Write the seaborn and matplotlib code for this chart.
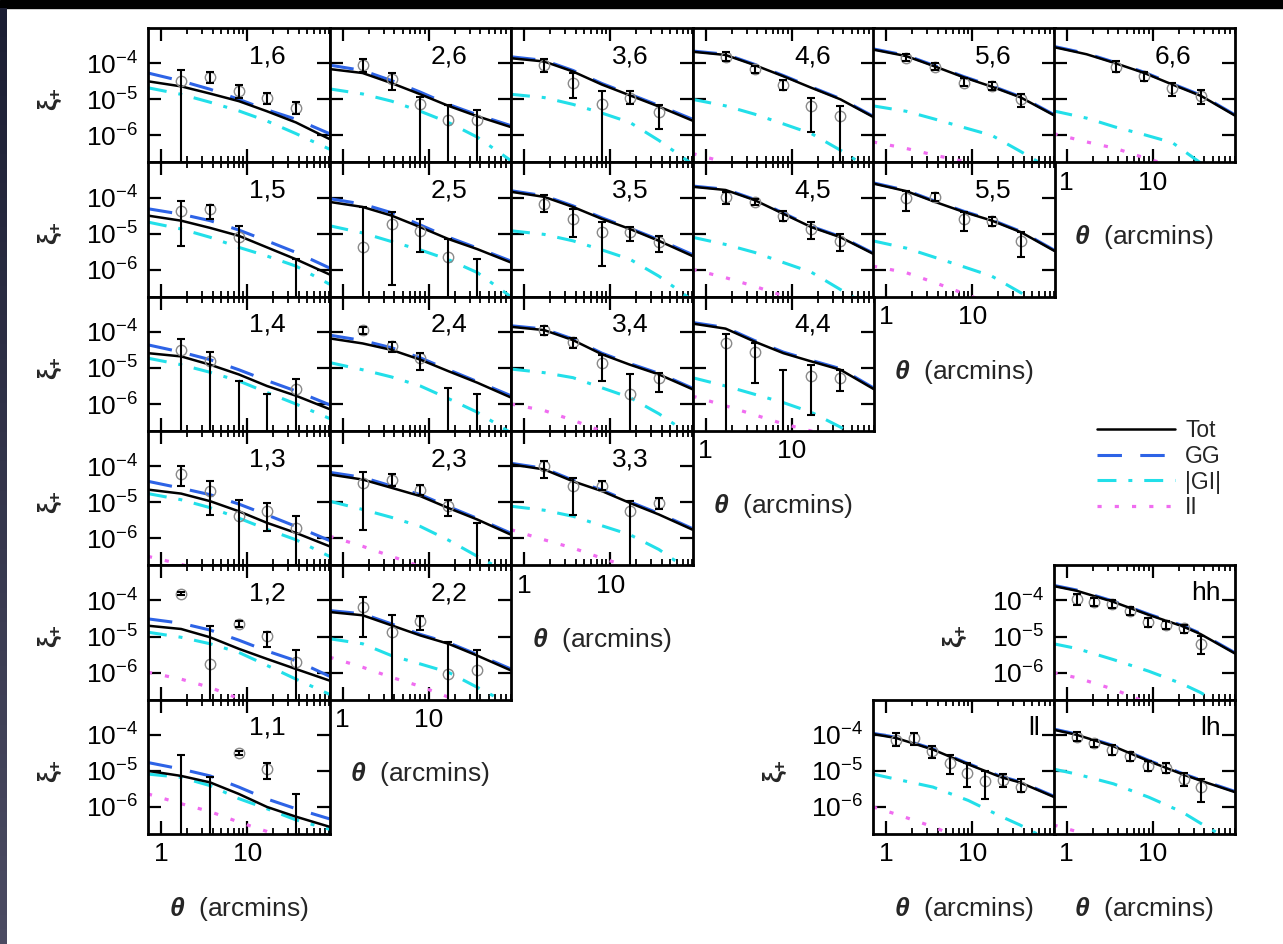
import numpy as np
import matplotlib
matplotlib.use("Agg")
import matplotlib.pyplot as plt
from matplotlib.ticker import FixedLocator, NullLocator, FuncFormatter, NullFormatter
from matplotlib.lines import Line2D
from matplotlib.patches import Rectangle
import seaborn as sns

sns.set_theme(style="ticks")
plt.rcParams["font.family"] = ["Liberation Sans", "DejaVu Sans"]
plt.rcParams["mathtext.fontset"] = "custom"
plt.rcParams["mathtext.rm"] = "Liberation Sans"
plt.rcParams["mathtext.it"] = "Liberation Sans:italic:bold"
plt.rcParams["mathtext.bf"] = "Liberation Sans:bold"

# ---------------------------------------------------------------- data
# angular grid (arcmin) for the model curves and the measured bins
THETA_MODEL = [0.7, 1.7, 3.7, 8.0, 17.0, 37.0, 91.0]
THETA_DATA = [1.7, 3.7, 8.0, 17.0, 37.0]
THETA_MODEL_AUTO = [0.7, 1.3, 3.5, 9.0, 22.0, 36.0, 91.0]
THETA_DATA_AUTO = [1.3, 2.1, 3.4, 5.5, 8.8, 14.2, 23.0, 37.0]

# log10 xi_+ of the model components per tomographic bin pair
TOT = {
    "1,6": [-4.50, -4.64, -4.84, -5.05, -5.33, -5.64, -6.10],
    "2,6": [-4.16, -4.27, -4.55, -4.86, -5.18, -5.47, -5.77],
    "3,6": [-3.86, -3.95, -4.23, -4.59, -4.89, -5.20, -5.59],
    "4,6": [-3.68, -3.77, -4.05, -4.36, -4.68, -5.00, -5.50],
    "5,6": [-3.62, -3.80, -4.09, -4.39, -4.65, -4.95, -5.45],
    "6,6": [-3.55, -3.75, -4.00, -4.27, -4.59, -4.91, -5.45],
    "1,5": [-4.50, -4.64, -4.84, -5.06, -5.38, -5.71, -6.13],
    "2,5": [-4.12, -4.26, -4.50, -4.82, -5.15, -5.43, -5.80],
    "3,5": [-3.84, -3.98, -4.26, -4.59, -4.87, -5.20, -5.62],
    "4,5": [-3.70, -3.79, -4.07, -4.45, -4.82, -5.10, -5.57],
    "5,5": [-3.61, -3.82, -4.12, -4.40, -4.64, -4.96, -5.48],
    "1,4": [-4.59, -4.68, -4.91, -5.18, -5.50, -5.77, -6.14],
    "2,4": [-4.18, -4.32, -4.50, -4.77, -5.09, -5.41, -5.82],
    "3,4": [-3.86, -3.95, -4.23, -4.62, -4.91, -5.18, -5.59],
    "4,4": [-3.77, -3.91, -4.27, -4.59, -4.82, -5.05, -5.59],
    "1,3": [-4.65, -4.76, -4.97, -5.25, -5.57, -5.85, -6.22],
    "2,3": [-4.23, -4.37, -4.60, -4.83, -5.16, -5.48, -5.90],
    "3,3": [-3.95, -4.09, -4.42, -4.69, -5.02, -5.34, -5.76],
    "1,2": [-4.70, -4.79, -5.02, -5.34, -5.62, -5.90, -6.22],
    "2,2": [-4.32, -4.41, -4.69, -4.97, -5.20, -5.53, -5.94],
    "1,1": [-5.00, -5.14, -5.32, -5.64, -6.00, -6.27, -6.55],
}
GG = {
    "1,6": [-4.27, -4.49, -4.72, -5.00, -5.29, -5.55, -5.95],
    "2,6": [-4.05, -4.20, -4.48, -4.80, -5.14, -5.43, -5.73],
    "3,6": [-3.82, -3.92, -4.20, -4.56, -4.86, -5.17, -5.55],
    "4,6": [-3.66, -3.75, -4.03, -4.34, -4.66, -4.98, -5.48],
    "5,6": [-3.60, -3.78, -4.07, -4.37, -4.63, -4.93, -5.43],
    "6,6": [-3.53, -3.73, -3.98, -4.25, -4.57, -4.89, -5.43],
    "1,5": [-4.31, -4.46, -4.64, -4.90, -5.20, -5.52, -5.95],
    "2,5": [-4.03, -4.18, -4.42, -4.76, -5.10, -5.40, -5.76],
    "3,5": [-3.81, -3.95, -4.23, -4.56, -4.85, -5.17, -5.58],
    "4,5": [-3.68, -3.77, -4.05, -4.43, -4.80, -5.08, -5.55],
    "5,5": [-3.59, -3.80, -4.10, -4.38, -4.62, -4.94, -5.46],
    "1,4": [-4.36, -4.56, -4.77, -5.05, -5.35, -5.64, -6.02],
    "2,4": [-4.09, -4.24, -4.44, -4.72, -5.05, -5.38, -5.77],
    "3,4": [-3.83, -3.92, -4.20, -4.59, -4.88, -5.15, -5.56],
    "4,4": [-3.74, -3.88, -4.24, -4.56, -4.79, -5.02, -5.56],
    "1,3": [-4.42, -4.61, -4.79, -5.05, -5.35, -5.67, -6.06],
    "2,3": [-4.17, -4.31, -4.55, -4.79, -5.12, -5.45, -5.86],
    "3,3": [-3.92, -4.06, -4.39, -4.66, -4.99, -5.31, -5.73],
    "1,2": [-4.51, -4.63, -4.82, -5.10, -5.40, -5.67, -6.10],
    "2,2": [-4.28, -4.37, -4.65, -4.94, -5.17, -5.50, -5.90],
    "1,1": [-4.77, -4.95, -5.14, -5.45, -5.78, -6.05, -6.33],
}
GI = {
    "1,6": [-4.68, -4.86, -5.08, -5.32, -5.60, -5.95, -6.38],
    "2,6": [-4.71, -4.85, -5.05, -5.33, -5.64, -6.05, -6.70],
    "3,6": [-4.86, -4.95, -5.14, -5.38, -5.64, -6.14, -6.80],
    "4,6": [-5.00, -5.18, -5.41, -5.68, -5.95, -6.41, -7.00],
    "5,6": [-5.18, -5.33, -5.55, -5.78, -6.00, -6.45, -7.00],
    "6,6": [-5.32, -5.52, -5.77, -5.98, -6.20, -6.78, -7.20],
    "1,5": [-4.68, -4.87, -5.10, -5.38, -5.62, -5.90, -6.40],
    "2,5": [-4.78, -4.98, -5.22, -5.45, -5.72, -6.08, -6.75],
    "3,5": [-4.92, -5.02, -5.20, -5.45, -5.71, -6.18, -6.85],
    "4,5": [-5.10, -5.30, -5.52, -5.80, -6.07, -6.55, -7.10],
    "5,5": [-5.20, -5.40, -5.66, -5.92, -6.18, -6.64, -7.20],
    "1,4": [-4.73, -4.91, -5.12, -5.36, -5.68, -6.00, -6.40],
    "2,4": [-4.85, -5.05, -5.25, -5.50, -5.85, -6.23, -6.80],
    "3,4": [-5.03, -5.13, -5.27, -5.55, -5.82, -6.27, -6.90],
    "4,4": [-5.27, -5.50, -5.73, -5.96, -6.23, -6.64, -7.20],
    "1,3": [-4.76, -4.93, -5.15, -5.44, -5.75, -6.04, -6.50],
    "2,3": [-4.97, -5.20, -5.42, -5.67, -6.05, -6.50, -7.00],
    "3,3": [-5.11, -5.22, -5.39, -5.65, -5.90, -6.31, -6.95],
    "1,2": [-4.88, -5.02, -5.20, -5.44, -5.80, -6.18, -6.60],
    "2,2": [-5.06, -5.20, -5.53, -5.76, -5.99, -6.41, -6.90],
    "1,1": [-5.09, -5.18, -5.41, -5.77, -6.05, -6.36, -6.62],
}
II = {
    "4,6": [-6.50, -6.75, -7.00, -7.30, -7.60, -7.90, -8.20],
    "5,6": [-6.18, -6.36, -6.55, -6.72, -6.90, -7.10, -7.40],
    "6,6": [-5.95, -6.18, -6.36, -6.62, -6.85, -7.10, -7.40],
    "4,5": [-5.99, -6.22, -6.46, -6.72, -7.00, -7.30, -7.60],
    "5,5": [-5.90, -6.08, -6.36, -6.66, -6.95, -7.20, -7.50],
    "3,4": [-6.00, -6.18, -6.45, -6.75, -7.00, -7.30, -7.60],
    "4,4": [-5.78, -6.05, -6.30, -6.55, -6.75, -7.00, -7.30],
    "1,3": [-6.50, -6.72, -6.95, -7.20, -7.50, -7.80, -8.10],
    "2,3": [-5.94, -6.22, -6.50, -6.78, -7.00, -7.30, -7.60],
    "3,3": [-5.76, -6.04, -6.27, -6.55, -6.80, -7.10, -7.40],
    "1,2": [-5.99, -6.18, -6.41, -6.72, -7.00, -7.30, -7.60],
    "2,2": [-5.57, -5.85, -6.13, -6.38, -6.68, -7.00, -7.30],
    "1,1": [-5.64, -5.91, -6.13, -6.42, -6.68, -7.00, -7.30],
}

# measured log10 xi_+ : centre, top of error bar, bottom of error bar
# (None centre: point lies below the plotted range; None bottom: bar runs off the axis)
XI_MID = {
    "1,6": [-4.50, -4.38, -4.77, -4.97, -5.24],
    "2,6": [-4.06, -4.44, -5.14, -5.58, -5.58],
    "3,6": [-4.05, -4.55, -5.14, -4.95, -5.36],
    "4,6": [-3.82, -4.16, -4.59, -5.18, -5.45],
    "5,6": [-3.84, -4.09, -4.55, -4.64, -5.00],
    "6,6": [None, -4.09, -4.35, -4.68, -4.91],
    "1,5": [-4.36, -4.33, -5.10, None, None],
    "2,5": [-5.38, -4.73, -4.92, -5.66, None],
    "3,5": [-4.17, -4.59, -4.96, -4.96, -5.24],
    "4,5": [-3.98, -4.12, -4.50, -4.87, -5.20],
    "5,5": [-4.00, -3.98, -4.59, -4.66, -5.20],
    "1,4": [-4.50, -4.82, None, None, -5.59],
    "2,4": [-3.95, -4.39, -4.73, None, None],
    "3,4": [-3.95, -4.27, -4.86, -5.73, -5.29],
    "4,4": [-4.32, -4.55, None, -5.23, -5.29],
    "1,3": [-4.23, -4.69, -5.39, -5.25, -5.71],
    "2,3": [-4.46, -4.37, -4.65, -5.09, None],
    "3,3": [-4.00, -4.56, -4.54, -5.25, -5.02],
    "1,2": [-3.81, -5.75, -4.65, -4.99, -5.71],
    "2,2": [-4.19, -4.88, -4.56, -6.04, -5.94],
    "1,1": [None, None, -4.50, -4.95, None],
}
XI_HI = {
    "1,6": [-4.18, -4.25, -4.59, -4.82, -5.07],
    "2,6": [-3.89, -4.27, -4.93, -5.17, -5.30],
    "3,6": [-3.89, -4.27, -4.77, -4.77, -5.16],
    "4,6": [-3.68, -4.07, -4.45, -4.95, -5.18],
    "5,6": [-3.73, -4.00, -4.41, -4.53, -4.84],
    "6,6": [None, -3.95, -4.23, -4.55, -4.75],
    "1,5": [-4.10, -4.21, -4.78, None, -5.71],
    "2,5": [-4.26, -4.40, -4.59, -5.15, -5.71],
    "3,5": [-3.93, -4.31, -4.68, -4.82, -5.06],
    "4,5": [-3.84, -4.03, -4.36, -4.68, -5.01],
    "5,5": [-3.82, -3.86, -4.40, -4.54, -4.96],
    "1,4": [-4.21, -4.55, -5.36, -5.73, -5.32],
    "2,4": [-3.86, -4.27, -4.59, -5.55, -5.73],
    "3,4": [-3.84, -4.18, -4.64, -5.18, -5.14],
    "4,4": [-4.05, -4.32, -5.05, -4.91, -5.05],
    "1,3": [-4.00, -4.42, -4.93, -5.02, -5.39],
    "2,3": [-4.17, -4.23, -4.51, -4.93, -5.57],
    "3,3": [-3.86, -4.32, -4.42, -4.97, -4.88],
    "1,2": [-3.77, -4.70, -4.56, -4.88, -5.38],
    "2,2": [-3.91, -4.41, -4.42, -5.15, -5.36],
    "1,1": [-4.55, -5.18, -4.44, -4.77, -5.64],
}
XI_LO = {
    "1,6": [None, -4.55, -4.95, -5.14, -5.41],
    "2,6": [-4.23, -4.73, None, None, None],
    "3,6": [-4.23, -4.95, None, -5.14, -5.82],
    "4,6": [-3.95, -4.27, -4.73, -5.91, None],
    "5,6": [-3.93, -4.20, -4.64, -4.75, -5.20],
    "6,6": [None, -4.23, -4.50, -4.91, -5.14],
    "1,5": [-5.34, -4.59, None, None, None],
    "2,5": [None, -6.41, -5.52, None, None],
    "3,5": [-4.40, -5.10, -5.90, -5.20, -5.52],
    "4,5": [-4.17, -4.21, -4.64, -5.15, -5.48],
    "5,5": [-4.36, -4.10, -4.92, -4.78, -5.66],
    "1,4": [None, None, None, None, None],
    "2,4": [-4.05, -4.55, -5.05, None, None],
    "3,4": [-4.09, -4.45, -5.36, None, -5.68],
    "4,4": [None, -5.41, None, -6.30, -5.64],
    "1,3": [-4.56, -5.34, None, -5.81, None],
    "2,3": [-5.76, -4.56, -4.79, -5.39, None],
    "3,3": [-4.32, -5.34, -4.65, None, -5.20],
    "1,2": [-3.85, None, -4.74, -5.29, None],
    "2,2": [-5.02, None, -4.83, None, None],
    "1,1": [None, None, -4.56, -5.23, None],
}

# auto-correlations of the two redshift halves
AUTO_NAMES = ["hh", "ll", "lh"]
TOT_AUTO = {
    "hh": [-3.60, -3.73, -4.04, -4.40, -4.71, -4.93, -5.47],
    "ll": [-3.98, -4.09, -4.41, -4.82, -5.18, -5.32, -5.73],
    "lh": [-3.86, -4.00, -4.32, -4.73, -5.09, -5.27, -5.59],
}
GG_AUTO = {
    "hh": [-3.58, -3.71, -4.02, -4.38, -4.69, -4.91, -5.45],
    "ll": [-3.96, -4.07, -4.39, -4.80, -5.16, -5.30, -5.71],
    "lh": [-3.84, -3.98, -4.30, -4.71, -5.07, -5.25, -5.57],
}
GI_AUTO = {
    "hh": [-5.20, -5.33, -5.64, -5.96, -6.31, -6.55, -7.10],
    "ll": [-5.09, -5.23, -5.45, -5.82, -6.27, -6.50, -7.00],
    "lh": [-4.95, -5.09, -5.36, -5.73, -6.14, -6.45, -7.00],
}
II_AUTO = {
    "hh": [-6.00, -6.14, -6.46, -6.85, -7.20, -7.40, -7.80],
    "ll": [-6.00, -6.20, -6.55, -6.95, -7.30, -7.50, -7.90],
    "lh": [-6.50, -6.68, -7.00, -7.40, -7.80, -8.00, -8.30],
}
XI_MID_AUTO = {
    "hh": [-3.96, -4.04, -4.11, -4.29, -4.61, -4.67, -4.76, -5.20],
    "ll": [-4.14, -4.09, -4.45, -4.77, -5.05, -5.27, -5.25, -5.45],
    "lh": [-4.05, -4.23, -4.41, -4.59, -4.86, -4.91, -5.23, -5.45],
}
XI_HI_AUTO = {
    "hh": [-3.82, -3.93, -4.00, -4.18, -4.49, -4.56, -4.67, -4.98],
    "ll": [-3.95, -3.95, -4.32, -4.55, -4.77, -5.00, -5.09, -5.23],
    "lh": [-3.91, -4.14, -4.27, -4.47, -4.73, -4.77, -5.05, -5.23],
}
XI_LO_AUTO = {
    "hh": [-4.13, -4.16, -4.22, -4.40, -4.73, -4.79, -4.89, -5.47],
    "ll": [-4.32, -4.27, -4.64, -5.09, -5.45, -5.77, -5.45, -5.59],
    "lh": [-4.18, -4.35, -4.55, -4.73, -5.00, -5.05, -5.41, -5.86],
}

LEGEND_LABELS = ["Tot", "GG", "|GI|", "II"]
X_TICKS = [1, 10, 100]
Y_TICKS = [1e-6, 1e-5, 1e-4]

# ---------------------------------------------------------------- style
W, H = 1283, 944
COL_X = [148, 329.5, 511, 692.5, 873, 1053.5]
ROW_Y = [28, 162.3, 296.6, 430.9, 565.2, 699.5]
PW, PH = 181.5, 134.3
XLIM = (0.7, 91)
YLIM = (1.8e-7, 9.5e-4)
FS = 19

C_TOT, C_GG, C_GI, C_II = "black", "#2d63e6", "#22dfe9", "#f06cf0"
LS_GG = (0, (8, 6))
LS_GI = (0, (6.2, 3.9, 1.3, 3.9))
LS_II = (0, (1.3, 4.1))

fig = plt.figure(figsize=(W / 100, H / 100), dpi=100, facecolor="white")

# dark slide frame along top and left edges
fig.add_artist(Rectangle((0, 1 - 8 / H), 1, 8 / H, transform=fig.transFigure,
                         color="black", zorder=-5))
edge = fig.add_axes([0, 0, 7 / W, 1 - 8 / H], zorder=-5)
edge.imshow(np.linspace(0, 1, 64)[:, None], aspect="auto",
            cmap=matplotlib.colors.LinearSegmentedColormap.from_list(
                "edge", ["#1b1e33", "#4b4b62"]))
edge.axis("off")


def add_panel(x0, y0):
    return fig.add_axes([x0 / W, 1 - (y0 + PH) / H, PW / W, PH / H])


def style_axes(ax, xlabels, ylabels):
    ax.set_xscale("log")
    ax.set_yscale("log")
    ax.set_xlim(*XLIM)
    ax.set_ylim(*YLIM)
    ax.xaxis.set_major_locator(FixedLocator(X_TICKS))
    ax.xaxis.set_minor_locator(FixedLocator(
        [m * d for d in (1, 10) for m in range(2, 10)]))
    ax.yaxis.set_major_locator(FixedLocator(Y_TICKS))
    ax.yaxis.set_minor_locator(NullLocator())
    ax.xaxis.set_minor_formatter(NullFormatter())
    ax.tick_params(which="both", direction="in", top=True, right=True,
                   color="black", labelcolor="black", labelsize=FS)
    ax.tick_params(which="major", length=9.5, width=1.6)
    ax.tick_params(which="minor", length=4.5, width=1.3)
    ax.tick_params(axis="x", which="major", pad=6)
    ax.tick_params(axis="y", which="major", pad=7)
    for sp in ax.spines.values():
        sp.set_linewidth(2.0)
        sp.set_color("black")
    if xlabels:
        ax.xaxis.set_major_formatter(FuncFormatter(lambda v, p: f"{v:g}"))
        ax.set_xlabel(r"$\theta$  (arcmins)", fontsize=FS, va="center")
        ax.xaxis.set_label_coords(0.5, -75 / PH)
    else:
        ax.xaxis.set_major_formatter(NullFormatter())
    if ylabels:
        ax.yaxis.set_major_formatter(FuncFormatter(
            lambda v, p: r"$10^{%d}$" % round(np.log10(v))))
        ax.set_ylabel(r"$\mathbf{\xi}_{\mathbf{+}}$", fontsize=FS,
                      rotation=90, va="center")
        ax.yaxis.set_label_coords(-0.54, 0.47)
    else:
        ax.yaxis.set_major_formatter(NullFormatter())
    ax.grid(False)


def draw_models(ax, theta, tot, gg, gi, ii):
    th = np.array(theta, float)
    layers = [(ii, C_II, 2.3, LS_II, 1.5), (gi, C_GI, 2.2, LS_GI, 1.6),
              (gg, C_GG, 2.2, LS_GG, 1.7), (tot, C_TOT, 1.8, "-", 1.8)]
    for vals, color, lw, ls, z in layers:
        if vals is None:
            continue
        sns.lineplot(x=th, y=10.0 ** np.array(vals, float), ax=ax,
                     color=color, linewidth=lw, linestyle=ls,
                     estimator=None, sort=False, legend=False, zorder=z)


def draw_data(ax, theta, mid, hi, lo):
    th = np.array(theta, float)
    keep = np.array([h is not None for h in hi])
    top = 10.0 ** np.array([h for h in hi if h is not None], float)
    bot = 10.0 ** np.array([(-99.0 if l is None else l)
                            for h, l in zip(hi, lo) if h is not None], float)
    ax.errorbar(th[keep], top, yerr=[top - bot, np.zeros_like(top)],
                fmt="none", ecolor="black", elinewidth=1.5, capsize=2.8,
                capthick=1.5, zorder=5)
    shown = np.array([m is not None for m in mid])
    cen = 10.0 ** np.array([m for m in mid if m is not None], float)
    ax.plot(th[shown], cen, linestyle="none", marker="o", markersize=7.5,
            markerfacecolor="none", markeredgecolor="#8a8a8a",
            markeredgewidth=1.0, zorder=4)


# tomographic bin pairs i<=j : column i, row counted from j=6 downwards
for j in range(6, 0, -1):
    for i in range(1, j + 1):
        key = f"{i},{j}"
        ax = add_panel(COL_X[i - 1], ROW_Y[6 - j])
        style_axes(ax, xlabels=(i == j), ylabels=(i == 1))
        draw_models(ax, THETA_MODEL, TOT[key], GG[key], GI[key], II.get(key))
        draw_data(ax, THETA_DATA, XI_MID[key], XI_HI[key], XI_LO[key])
        ax.text(0.66, 0.79, key, transform=ax.transAxes, ha="center",
                va="center", fontsize=FS, color="black")

# auto-correlation panels in the lower right
AUTO_POS = {"hh": (5, 4), "ll": (4, 5), "lh": (5, 5)}
AUTO_XLAB = {"hh": False, "ll": True, "lh": True}
AUTO_YLAB = {"hh": True, "ll": True, "lh": False}
for name in AUTO_NAMES:
    c, r = AUTO_POS[name]
    ax = add_panel(COL_X[c], ROW_Y[r])
    style_axes(ax, xlabels=AUTO_XLAB[name], ylabels=AUTO_YLAB[name])
    draw_models(ax, THETA_MODEL_AUTO, TOT_AUTO[name], GG_AUTO[name],
                GI_AUTO[name], II_AUTO[name])
    draw_data(ax, THETA_DATA_AUTO, XI_MID_AUTO[name], XI_HI_AUTO[name],
              XI_LO_AUTO[name])
    ax.text(0.92, 0.79, name, transform=ax.transAxes, ha="right",
            va="center", fontsize=FS, color="black")

handles = [Line2D([], [], color=C_TOT, lw=1.8, ls="-"),
           Line2D([], [], color=C_GG, lw=2.2, ls=LS_GG),
           Line2D([], [], color=C_GI, lw=2.2, ls=LS_GI),
           Line2D([], [], color=C_II, lw=2.3, ls=LS_II)]
fig.legend(handles, LEGEND_LABELS, loc="upper left",
           bbox_to_anchor=(1097 / W, 1 - 419 / H), frameon=False,
           fontsize=16.5, handlelength=3.4, handletextpad=0.45,
           labelspacing=0.12, borderpad=0, borderaxespad=0)

fig.savefig("out.png", dpi=100, facecolor="white")
